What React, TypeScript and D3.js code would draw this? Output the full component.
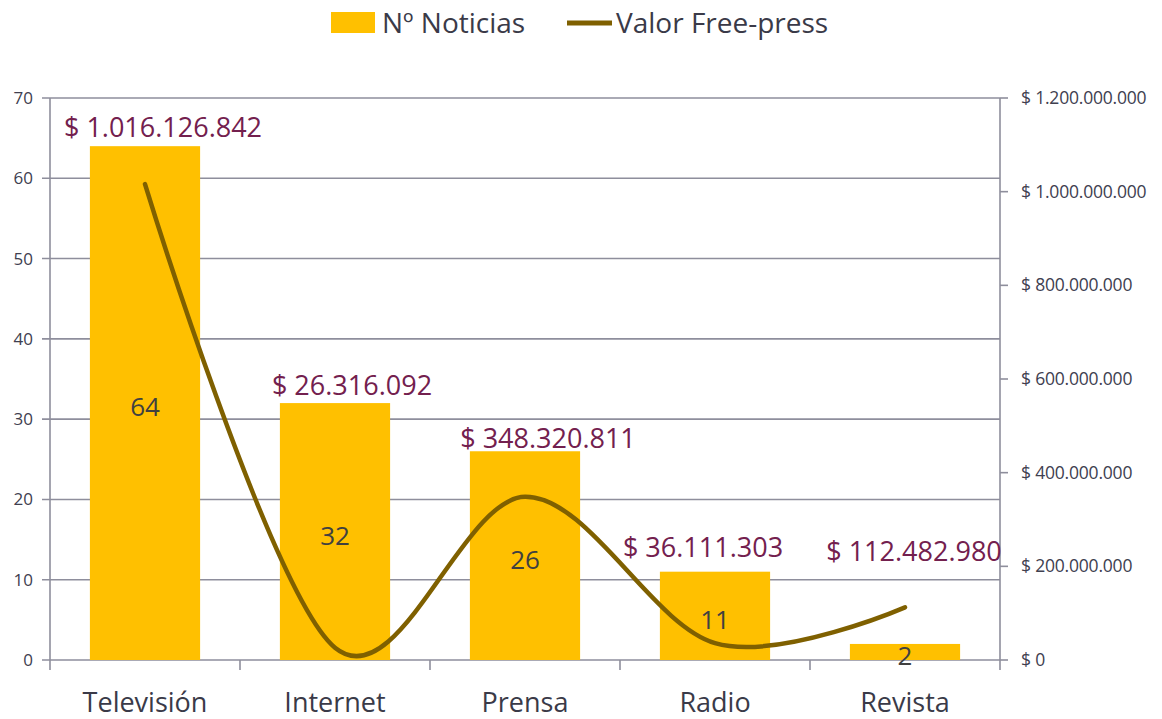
import React from "react";
import * as d3 from "d3";

const categories = ["Televisión", "Internet", "Prensa", "Radio", "Revista"];
const noticias = [64, 32, 26, 11, 2];
const freePress = [1016126842, 26316092, 348320811, 36111303, 112482980];
const leftTicks = [0, 10, 20, 30, 40, 50, 60, 70];
const rightTicks = [0, 200000000, 400000000, 600000000, 800000000, 1000000000, 1200000000];

const W = 1162;
const H = 719;
const margin = { left: 50, right: 162, top: 98, bottom: 59 };
const FONT = "'Open Sans', 'Noto Sans', sans-serif";

const fmt = (v: number) => "$ " + d3.format(",")(v).replace(/,/g, ".");

export default function App() {
  const x = d3.scaleBand<string>().domain(categories).range([margin.left, W - margin.right]).paddingInner(0.42).paddingOuter(0.21);
  const xb = d3.scaleBand<string>().domain(categories).range([margin.left, W - margin.right]);
  const yL = d3.scaleLinear().domain([0, 70]).range([H - margin.bottom, margin.top]);
  const yR = d3.scaleLinear().domain([0, 1200000000]).range([H - margin.bottom, margin.top]);
  const x0 = margin.left;
  const x1 = W - margin.right;
  const yb = H - margin.bottom;

  const pts: [number, number][] = categories.map((c, i) => [xb(c)! + xb.bandwidth() / 2, yR(freePress[i])]);
  const line = d3.line().curve(d3.curveCardinal.tension(0))(pts)!;

  const labelDx = [18, 17, 23, -12, 9];
  const labelY = categories.map((c, i) => Math.min(yL(noticias[i]) - 9, yR(freePress[i]) - 46));
  const extraDy = [0, 1, 6, -6, 0];

  return (
    <svg width={W} height={H} style={{ position: "absolute", left: 0, top: 0, background: "#fff" }} fontFamily={FONT}>
      {leftTicks.map((t) => (
        <line key={"g" + t} x1={x0 - 8} x2={x1} y1={yL(t)} y2={yL(t)} stroke="#8E8E9C" strokeWidth={1.6} />
      ))}
      <line x1={x0} x2={x0} y1={margin.top} y2={yb + 10} stroke="#8E8E9C" strokeWidth={1.6} />
      <line x1={x1} x2={x1} y1={margin.top} y2={yb + 10} stroke="#8E8E9C" strokeWidth={1.6} />
      {rightTicks.map((t) => (
        <line key={"rt" + t} x1={x1} x2={x1 + 8} y1={yR(t)} y2={yR(t)} stroke="#8E8E9C" strokeWidth={1.6} />
      ))}
      {categories.slice(1).map((c) => (
        <line key={"ct" + c} x1={xb(c)!} x2={xb(c)!} y1={yb} y2={yb + 10} stroke="#8E8E9C" strokeWidth={1.6} />
      ))}
      {leftTicks.map((t) => (
        <text key={"lt" + t} x={33} y={yL(t)} dy="0.35em" textAnchor="end" fontSize={17} fill="#404050">
          {t}
        </text>
      ))}
      {rightTicks.map((t) => (
        <text key={"rl" + t} x={1021} y={yR(t)} dy="0.35em" textAnchor="start" fontSize={17.5} fill="#404050" letterSpacing={-0.2}>
          {fmt(t)}
        </text>
      ))}
      {categories.map((c, i) => (
        <rect key={"b" + c} x={x(c)!} width={x.bandwidth()} y={yL(noticias[i])} height={yb - yL(noticias[i])} fill="#FFC000" />
      ))}
      {categories.map((c, i) => (
        <text key={"bl" + c} x={x(c)! + x.bandwidth() / 2} y={(yL(noticias[i]) + yb) / 2 + 4} dy="0.35em" textAnchor="middle" fontSize={26} fill="#404040">
          {noticias[i]}
        </text>
      ))}
      <path d={line} fill="none" stroke="#7F6000" strokeWidth={4.5} strokeLinecap="round" />
      {categories.map((c, i) => (
        <text key={"vl" + c} x={xb(c)! + xb.bandwidth() / 2 + labelDx[i]} y={labelY[i] + extraDy[i]} textAnchor="middle" fontSize={27} fill="#73204E">
          {fmt(freePress[i])}
        </text>
      ))}
      {categories.map((c) => (
        <text key={"cl" + c} x={xb(c)! + xb.bandwidth() / 2} y={703} dy="0.35em" textAnchor="middle" fontSize={27} fill="#3A3A48">
          {c}
        </text>
      ))}
      <rect x={331} y={12} width={44} height={21} fill="#FFC000" />
      <text x={382} y={23} dy="0.35em" fontSize={28} fill="#3A3A48">Nº Noticias</text>
      <line x1={567} x2={612} y1={23} y2={23} stroke="#7F6000" strokeWidth={5} />
      <text x={616} y={23} dy="0.35em" fontSize={28} fill="#3A3A48">Valor Free-press</text>
    </svg>
  );
}
